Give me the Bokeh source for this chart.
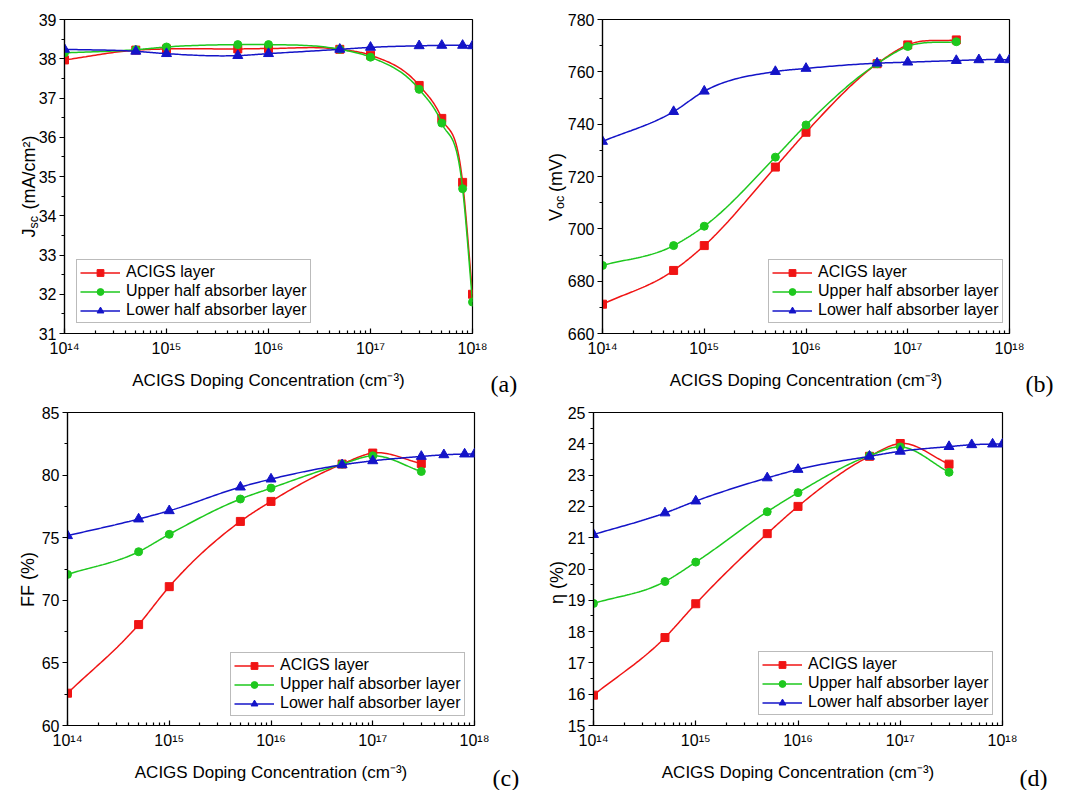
import numpy as np
from bokeh.plotting import figure
from bokeh.models import (FixedTicker, CustomJSTickFormatter, Label, Legend,
                          LegendItem, Range1d)
from bokeh.layouts import column, row
from bokeh.embed import file_html
from bokeh.resources import INLINE

# ---- data -------------------------------------------------------------
doping = [1e14, 5e14, 1e15, 5e15, 1e16, 5e16, 1e17, 3e17, 5e17, 8e17, 1e18]
doping_short = doping[:8]

jsc_acigs = [37.97, 38.22, 38.25, 38.25, 38.26, 38.24, 38.09, 37.32, 36.48, 34.85, 32.0]
jsc_upper = [38.15, 38.23, 38.30, 38.36, 38.36, 38.24, 38.04, 37.22, 36.36, 34.69, 31.8]
jsc_lower = [38.24, 38.19, 38.13, 38.08, 38.13, 38.24, 38.29, 38.33, 38.34, 38.34, 38.33]

voc_acigs = [671.2, 684.1, 693.6, 723.6, 736.9, 763.1, 770.3, 772.2]
voc_upper = [686.0, 693.6, 701.0, 727.4, 739.7, 763.1, 769.7, 771.5]
voc_lower = [733.4, 744.8, 752.6, 760.1, 761.3, 763.3, 763.7, 764.3, 764.6, 764.7, 764.6]

ff_acigs = [62.58, 68.06, 71.09, 76.30, 77.90, 80.88, 81.76, 80.93]
ff_upper = [72.07, 73.88, 75.27, 78.09, 78.96, 80.88, 81.54, 80.29]
ff_lower = [75.16, 76.49, 77.15, 79.04, 79.68, 80.82, 81.14, 81.49, 81.62, 81.68, 81.68]

eta_acigs = [15.97, 17.81, 18.89, 21.13, 22.00, 23.60, 24.01, 23.35]
eta_upper = [18.90, 19.60, 20.22, 21.83, 22.44, 23.62, 23.90, 23.09]
eta_lower = [21.10, 21.79, 22.17, 22.91, 23.18, 23.60, 23.76, 23.91, 23.97, 23.99, 23.99]

series_names = ["ACIGS layer", "Upper half absorber layer", "Lower half absorber layer"]
x_title = "ACIGS Doping Concentration (cm\u207b\u00b3)"

RED, GREEN, BLUE = "#F01414", "#1EC81E", "#1414C8"
FONT = "Liberation Sans"
X0, X1 = 1e14, 1e18


def spline_path(xs, ys, n=30):
    """Cubic Hermite curve through the points, in log10(x) space."""
    lx = np.log10(np.asarray(xs, float))
    y = np.asarray(ys, float)
    d = np.diff(y) / np.diff(lx)
    m = np.empty_like(y)
    m[0], m[-1] = d[0], d[-1]
    for i in range(1, len(y) - 1):
        h0, h1 = lx[i] - lx[i - 1], lx[i + 1] - lx[i]
        m[i] = (h1 * d[i - 1] + h0 * d[i]) / (h0 + h1)
    px, py = [], []
    for i in range(len(y) - 1):
        h = lx[i + 1] - lx[i]
        t = np.linspace(0, 1, n, endpoint=(i == len(y) - 2))
        h00 = 2 * t**3 - 3 * t**2 + 1
        h10 = t**3 - 2 * t**2 + t
        h01 = -2 * t**3 + 3 * t**2
        h11 = t**3 - t**2
        px.append(lx[i] + t * h)
        py.append(h00 * y[i] + h10 * h * m[i] + h01 * y[i + 1] + h11 * h * m[i + 1])
    return 10 ** np.concatenate(px), np.concatenate(py)


sup_fmt = CustomJSTickFormatter(code="""
const sup = {"0":"\u2070","1":"\u00b9","2":"\u00b2","3":"\u00b3","4":"\u2074",
             "5":"\u2075","6":"\u2076","7":"\u2077","8":"\u2078","9":"\u2079","-":"\u207b"};
const e = Math.round(Math.log10(tick));
return "10" + String(e).split("").map(c => sup[c]).join("");
""")

x_major = [1e14, 1e15, 1e16, 1e17, 1e18]
x_minor = [k * 10.0**e for e in range(14, 18) for k in range(2, 10)]


def side_text(p, side, text, x, y, dx, dy, size, font=FONT, angle=0.0,
              align="left"):
    """Text anchored at a data corner of the frame, shifted by pixels."""
    p.add_layout(Label(x=x, y=y, x_units="data", y_units="data",
                       x_offset=dx, y_offset=dy, text=text, angle=angle,
                       text_font=font, text_font_size=size,
                       text_align=align, text_baseline="middle",
                       text_color="black"), side)


def panel(width, height, borders, yr, ystep, series, ylabel_parts, tag,
          tag_xy, legend_xy):
    left, right, top, bottom = borders
    p = figure(width=width, height=height, x_axis_type="log",
               x_range=Range1d(X0, X1), y_range=Range1d(*yr),
               output_backend="svg", toolbar_location=None,
               min_border_left=left, min_border_right=right,
               min_border_top=top, min_border_bottom=bottom)
    p.grid.visible = False
    p.outline_line_color = "black"
    p.outline_line_width = 1.2
    p.background_fill_color = "white"
    p.border_fill_color = "white"

    xa = p.xaxis[0]
    xa.ticker = FixedTicker(ticks=x_major, minor_ticks=x_minor)
    xa.formatter = sup_fmt
    xa.major_tick_in, xa.major_tick_out = 5, 0
    xa.minor_tick_in, xa.minor_tick_out = 3, 0
    xa.major_label_standoff = 6
    xa.axis_label = x_title
    xa.axis_label_text_font = FONT
    xa.axis_label_text_font_size = "17px"
    xa.axis_label_text_font_style = "normal"
    xa.axis_label_text_color = "black"
    xa.axis_label_standoff = 11

    ya = p.yaxis[0]
    yt = list(np.arange(yr[0], yr[1] + ystep / 2, ystep))
    ym = list(np.arange(yr[0] + ystep / 2, yr[1], ystep))
    ya.ticker = FixedTicker(ticks=yt, minor_ticks=ym)
    ya.major_tick_in, ya.major_tick_out = 0, 5
    ya.minor_tick_in, ya.minor_tick_out = 0, 3
    ya.major_label_standoff = 3

    for ax in (xa, ya):
        ax.axis_line_color = "black"
        ax.axis_line_width = 1.2
        ax.major_tick_line_color = "black"
        ax.minor_tick_line_color = "black"
        ax.major_tick_line_width = 1.2
        ax.minor_tick_line_width = 1.2
        ax.major_label_text_font = FONT
        ax.major_label_text_font_size = "16px"
        ax.major_label_text_color = "black"

    items = []
    markers = ["square", "circle", "triangle"]
    sizes = [8, 8, 10]
    colors = [RED, GREEN, BLUE]
    for (xs, ys), name, mk, sz, col in zip(series, series_names, markers, sizes, colors):
        sx, sy = spline_path(xs, ys)
        ln = p.line(sx, sy, line_color=col, line_width=1.5)
        sc = p.scatter(xs, ys, marker=mk, size=sz, fill_color=col, line_color=col)
        items.append(LegendItem(label=name, renderers=[ln, sc]))

    leg = Legend(items=items, location=legend_xy,
                 label_text_font=FONT, label_text_font_size="16px",
                 label_text_color="black",
                 glyph_width=40, glyph_height=17, label_height=17,
                 label_standoff=6, spacing=1, padding=3, margin=0,
                 border_line_color="#777777", border_line_width=1.5,
                 background_fill_color="white", background_fill_alpha=1.0)
    p.add_layout(leg)

    # rotated y-axis title, assembled from pieces (subscripts)
    for txt, size, dx, dy, align in ylabel_parts:
        side_text(p, "right", txt, X0, yr[0], dx, dy, size,
                  angle=np.pi / 2, align=align)
    # panel tag to the lower right
    side_text(p, "left", tag, X1, yr[0], tag_xy[0], tag_xy[1], "24px",
              font="Liberation Serif")
    return p


pa = panel(536, 400, (64, 64, 19, 67), (31, 39), 1,
           [(doping, jsc_acigs), (doping, jsc_upper), (doping, jsc_lower)],
           [("J", "18px", -35.5, 96, "left"),
            ("sc", "12.5px", -31, 105, "left"),
            ("(mA/cm\u00b2)", "18px", -35.5, 124, "left")],
           "(a)", (18, -50.5), (12, 10))

pb = panel(537, 400, (62, 64, 19, 67), (660, 780), 20,
           [(doping_short, voc_acigs), (doping_short, voc_upper), (doping, voc_lower)],
           [("V", "18px", -47, 112.5, "left"),
            ("oc", "12.5px", -42.5, 124.5, "left"),
            ("(mV)", "18px", -47, 141.5, "left")],
           "(b)", (16, -50.5), (166, 10))

pc = panel(536, 390, (67, 62, 12, 65), (60, 85), 5,
           [(doping_short, ff_acigs), (doping_short, ff_upper), (doping, ff_lower)],
           [("FF (%)", "18px", -40, 146, "center")],
           "(c)", (18, -52), (163, 9))

pd = panel(537, 390, (56, 71, 12, 65), (15, 25), 1,
           [(doping_short, eta_acigs), (doping_short, eta_upper), (doping, eta_lower)],
           [("\u03b7 (%)", "18px", -37, 143, "center")],
           "(d)", (17, -52), (165, 10))

layout = column(row(pa, pb), row(pc, pd))

with open("out.html", "w") as f:
    f.write(file_html(layout, INLINE))
